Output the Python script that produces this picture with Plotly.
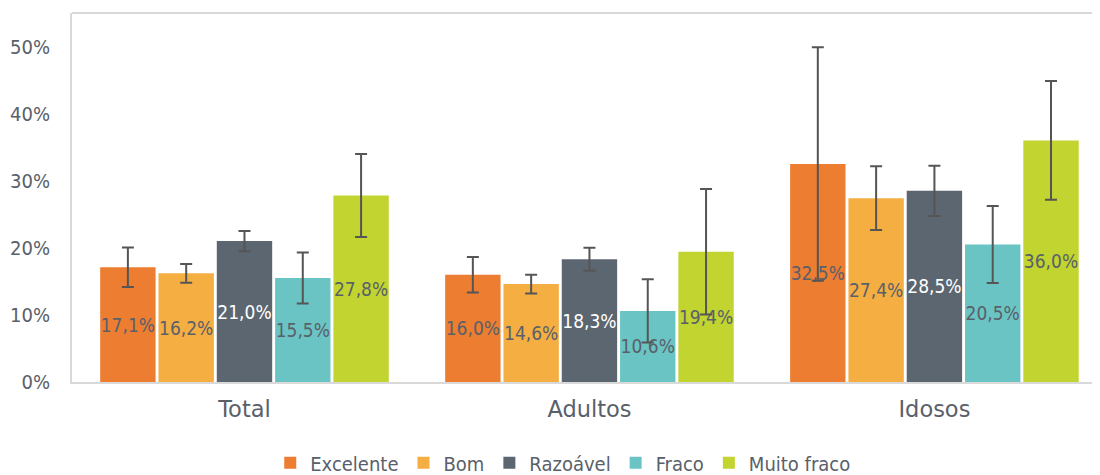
import plotly.graph_objects as go

categories = ["Total", "Adultos", "Idosos"]
series_names = ["Excelente", "Bom", "Razoável", "Fraco", "Muito fraco"]
excelente = [17.1, 16.0, 32.5]
bom = [16.2, 14.6, 27.4]
razoavel = [21.0, 18.3, 28.5]
fraco = [15.5, 10.6, 20.5]
muito_fraco = [27.8, 19.4, 36.0]
err_excelente = [2.95, 2.65, 17.4]
err_bom = [1.4, 1.4, 4.75]
err_razoavel = [1.5, 1.7, 3.75]
err_fraco = [3.8, 4.7, 5.75]
err_muito_fraco = [6.2, 9.35, 8.85]
y_ticks = [0, 10, 20, 30, 40, 50]
y_tick_labels = ["0%", "10%", "20%", "30%", "40%", "50%"]

values = [excelente, bom, razoavel, fraco, muito_fraco]
errors = [err_excelente, err_bom, err_razoavel, err_fraco, err_muito_fraco]
colors = ["#ED7D31", "#F5AE42", "#5C6670", "#6BC4C4", "#C1D42F"]
text_colors = ["#59606A", "#59606A", "#FFFFFF", "#59606A", "#59606A"]

FONT = "DejaVu Sans Condensed, DejaVu Sans"
GREY = "#59606A"

fig = go.Figure()
for name, vals, errs, col, tcol in zip(series_names, values, errors, colors, text_colors):
    fig.add_trace(go.Bar(
        name=name, x=categories, y=vals,
        marker=dict(color=col, line=dict(width=0)),
        error_y=dict(type="data", array=errs, visible=True, color="#555555",
                     thickness=2, width=6),
        texttemplate="%{y:.1f}%", textposition="inside", textangle=0,
        insidetextanchor="middle", constraintext="none",
        textfont=dict(family=FONT, size=19, color=tcol),
        hoverinfo="skip",
    ))

fig.update_layout(
    width=1092, height=467,
    separators=",.",
    barmode="group", bargap=0.155, bargroupgap=0.05,
    plot_bgcolor="white", paper_bgcolor="white",
    margin=dict(l=64, r=0, t=5, b=93),
    font=dict(family=FONT, color=GREY),
    showlegend=True,
    uniformtext=dict(minsize=19, mode="show"),
    legend=dict(orientation="h", xref="container", x=0.508, xanchor="center",
                yref="container", y=0.026, yanchor="middle",
                font=dict(family=FONT, size=20, color=GREY),
                itemwidth=30, tracegroupgap=0),
    xaxis=dict(range=[-0.5, 2.48], showline=True, linecolor="#D9D9D9", linewidth=2,
               ticks="", tickfont=dict(family="DejaVu Sans", size=22.5, color=GREY),
               ticklabelstandoff=6,
               showgrid=False, fixedrange=True, automargin=False),
    yaxis=dict(range=[0, 55], tickvals=y_ticks, ticktext=y_tick_labels, showgrid=False,
               showline=True, linecolor="#D9D9D9", linewidth=2, zeroline=False,
               tickfont=dict(family=FONT, size=20, color=GREY), ticks="",
               ticklabelstandoff=16, automargin=False),
    shapes=[dict(type="line", xref="paper", yref="paper", x0=0, x1=1, y0=1, y1=1,
                 line=dict(color="#D9D9D9", width=2))],
)

fig.write_html("out.html")
